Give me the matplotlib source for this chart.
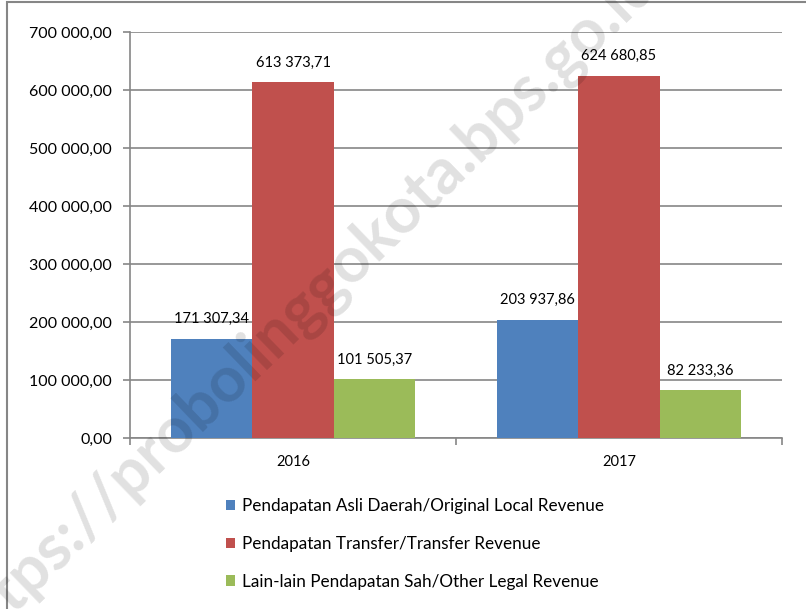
import numpy as np
import matplotlib.pyplot as plt
from matplotlib.patches import Rectangle

years = ["2016", "2017"]
series = [
    "Pendapatan Asli Daerah/Original Local Revenue",
    "Pendapatan Transfer/Transfer Revenue",
    "Lain-lain Pendapatan Sah/Other Legal Revenue",
]
local_rev = [171307.34, 203937.86]
transfer_rev = [613373.71, 624680.85]
other_rev = [101505.37, 82233.36]
colors = ["#4F81BD", "#C0504D", "#9BBB59"]
yticks = [0, 100000, 200000, 300000, 400000, 500000, 600000, 700000]


def fmt(v, dec=2):
    s = f"{v:,.{dec}f}"
    return s.replace(",", " ").replace(".", ",")


plt.rcParams["font.family"] = ["Lato", "DejaVu Sans"]

fig = plt.figure(figsize=(8.06, 6.09), dpi=100)
ax = fig.add_axes([130 / 806, 1 - 438 / 609, 652 / 806, 406 / 609])

x = np.arange(len(years))
w = 0.25
for i, (vals, name) in enumerate(zip([local_rev, transfer_rev, other_rev], series)):
    pos = x + (i - 1) * w
    ax.bar(pos, vals, width=w, color=colors[i], label=name, zorder=3)
    for px, v in zip(pos, vals):
        ax.annotate(fmt(v), (px, v), xytext=(0, 9), textcoords="offset points",
                    ha="center", va="bottom", fontsize=10.5)

ax.set_xlim(-0.5, 1.5)
ax.set_ylim(0, 700000)
ax.set_yticks(yticks)
ax.set_yticklabels([fmt(t) for t in yticks], fontsize=11.5)
ax.yaxis.grid(True, color="#868686", linewidth=1.2, zorder=0)
ax.set_xticks([-0.5, 0.5, 1.5])
ax.set_xticklabels([])
ax.set_xticks(x, minor=True)
ax.set_xticklabels(years, minor=True, fontsize=10.5)
ax.tick_params(axis="x", which="minor", length=0, pad=12)
ax.tick_params(axis="x", which="major", length=5, color="#868686", width=1.2)
ax.tick_params(axis="y", length=5, color="#868686", width=1.2, pad=8)
for s in ["top", "right"]:
    ax.spines[s].set_visible(False)
for s in ["left", "bottom"]:
    ax.spines[s].set_color("#868686")
    ax.spines[s].set_linewidth(1.2)

leg = fig.legend(loc="upper left", bbox_to_anchor=(219 / 806, 1 - 491 / 609),
                 frameon=False, fontsize=12.3, handlelength=0.55, handleheight=0.55,
                 handletextpad=0.4, labelspacing=1.28, borderaxespad=0)

# outer chart frame
fig.patches.append(Rectangle((7 / 806, -0.05), 1.2, 1 - 2 / 609 + 0.05,
                             transform=fig.transFigure, fill=False,
                             edgecolor="#868686", linewidth=1.5))

# watermark
fig.text(0.375, 0.496, "https://probolinggokota.bps.go.id", fontsize=46,
         fontweight="bold", color="black", alpha=0.12, rotation=44,
         ha="center", va="center", zorder=10)

fig.savefig("out.png", dpi=100)
